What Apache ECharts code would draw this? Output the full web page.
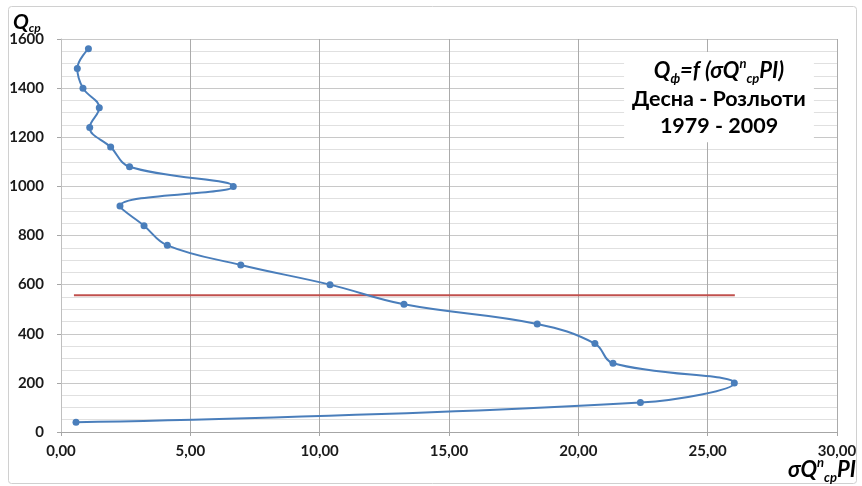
<!DOCTYPE html>
<html>
<head>
<meta charset="utf-8">
<script src="https://cdn.jsdelivr.net/npm/echarts@6/dist/echarts.min.js"></script>
<style>html,body{margin:0;padding:0;background:#fff}#c{width:862px;height:486px}</style>
</head>
<body>
<div id="c"></div>
<script>
// Q values (class midpoints)
const qValues = [40, 120, 200, 280, 360, 440, 520, 600, 680, 760, 840, 920, 1000, 1080, 1160, 1240, 1320, 1400, 1480, 1560];
// sigma Q^n cp PI values
const sigmaValues = [0.58, 22.4, 26.03, 21.34, 20.64, 18.41, 13.26, 10.40, 6.95, 4.11, 3.21, 2.28, 6.66, 2.65, 1.92, 1.11, 1.48, 0.85, 0.63, 1.06];
// horizontal reference line (red)
const refLineX = [0.5, 26.05];
const refLineQ = [557, 557];

const FONT = 'Lato, "Liberation Sans", sans-serif';
const chart = echarts.init(document.getElementById('c'), null, {renderer: 'canvas'});

const curve = sigmaValues.map((v, i) => [v, qValues[i]]);
const redLine = refLineX.map((v, i) => [v, refLineQ[i]]);

const main = {fontFamily: FONT, fontWeight: 'bold', fontStyle: 'italic', fontSize: 22, color: '#000', lineHeight: 28, align: 'center'};
const sub = {fontFamily: FONT, fontWeight: 'bold', fontStyle: 'italic', fontSize: 13, color: '#000', lineHeight: 13, verticalAlign: 'bottom', align: 'center'};
const sup = {fontFamily: FONT, fontWeight: 'bold', fontStyle: 'italic', fontSize: 13, color: '#000', lineHeight: 14, verticalAlign: 'top', align: 'center'};
const plain = {fontFamily: FONT, fontWeight: 'bold', fontSize: 21.5, color: '#000', lineHeight: 27.5, align: 'center'};

chart.setOption({
  animation: false,
  backgroundColor: '#fff',
  grid: {left: 61, right: 25, top: 39, bottom: 54, containLabel: false},
  title: [
    {
      text: '{m|Q}{s|cp}',
      left: 13, top: 10, padding: 0,
      textStyle: {rich: {
        m: Object.assign({}, main, {fontSize: 21, lineHeight: 24, align: 'left'}),
        s: Object.assign({}, sub, {fontSize: 12, align: 'left'})
      }}
    },
    {
      text: '{m|σQ}{p|n}{s|cp}{m|PI}',
      right: 6, bottom: 2, padding: 0,
      textStyle: {rich: {
        m: Object.assign({}, main, {align: 'left'}),
        p: Object.assign({}, sup, {align: 'left'}),
        s: Object.assign({}, sub, {align: 'left'})
      }}
    },
    {
      text: '{m|Q}{s|ф}{m|=f (σQ}{p|n}{s|cp}{m|PI)}\n{t|Десна - Розльоти}\n{t|1979 - 2009}',
      left: 711, top: 52, textAlign: 'center',
      padding: [5, 8, 5, 8],
      backgroundColor: '#fff',
      textStyle: {rich: {m: main, s: sub, p: sup, t: plain}}
    }
  ],
  xAxis: {
    type: 'value', min: 0, max: 30, interval: 5,
    axisLine: {show: true, lineStyle: {color: '#a6a6a6', width: 1}},
    axisTick: {show: true, length: 4, lineStyle: {color: '#a6a6a6'}},
    axisLabel: {
      fontFamily: FONT, fontWeight: 'bold', fontSize: 15, color: '#1a1a1a', margin: 12,
      formatter: v => v.toFixed(2).replace('.', ',')
    },
    splitLine: {show: true, lineStyle: {color: '#ababab', width: 1}}
  },
  yAxis: {
    type: 'value', min: 0, max: 1600, interval: 200,
    axisLine: {show: true, lineStyle: {color: '#bfbfbf', width: 1}},
    axisTick: {show: true, length: 4, lineStyle: {color: '#a6a6a6'}},
    axisLabel: {fontFamily: FONT, fontWeight: 'bold', fontSize: 15, color: '#1a1a1a', margin: 17, formatter: v => String(v)},
    splitLine: {show: true, lineStyle: {color: '#c8c8c8', width: 1}},
    minorTick: {show: false, splitNumber: 4},
    minorSplitLine: {show: true, lineStyle: {color: '#e0e0e0', width: 1}}
  },
  graphic: [
    {type: 'rect', shape: {x: 8.5, y: 6.5, width: 848, height: 477, r: 3}, style: {fill: 'none', stroke: '#d0d0d0', lineWidth: 1}, silent: true, z: -1}
  ],
  series: [
    {
      type: 'line', data: redLine, symbol: 'none',
      lineStyle: {color: '#c0504d', width: 2}, z: 2
    },
    {
      type: 'line', data: curve, smooth: 0.4,
      symbol: 'circle', symbolSize: 7,
      itemStyle: {color: '#4a7ebb'},
      lineStyle: {color: '#4a7ebb', width: 2}, z: 3
    }
  ]
});
</script>
</body>
</html>
